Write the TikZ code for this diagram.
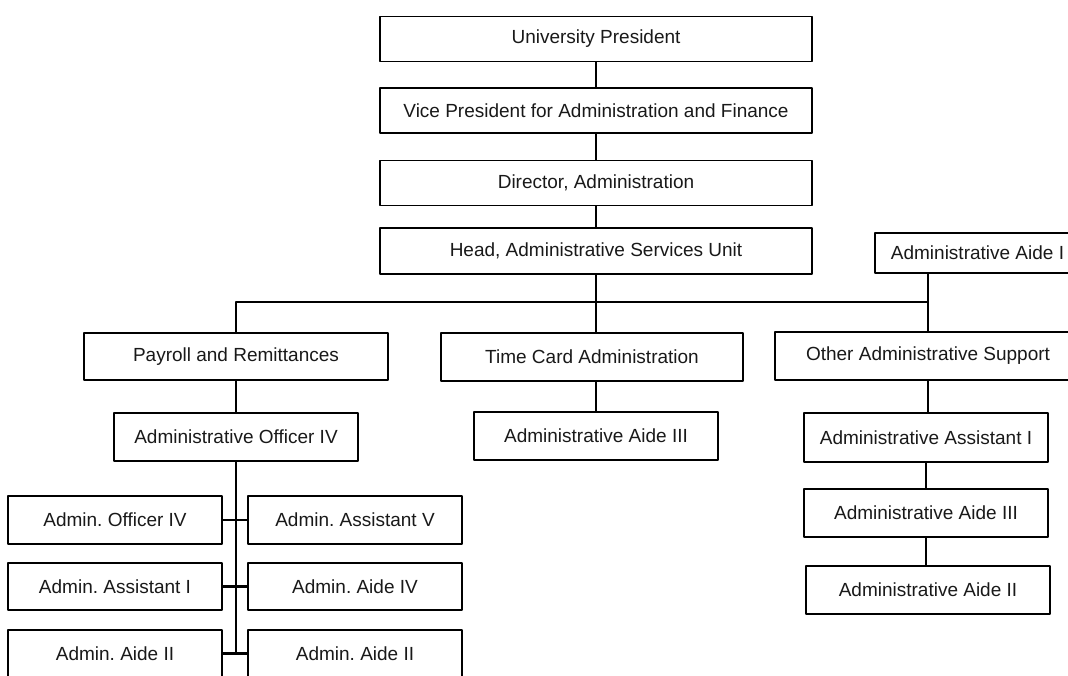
\documentclass[tikz,border=0pt]{standalone}
\usepackage{fontspec}
\setmainfont{Liberation Sans}
\begin{document}
\begin{tikzpicture}[x=0.5pt, y=-0.5pt, line join=round]
  \tikzset{post/.style={draw, line width=0.7pt, rectangle, inner sep=0pt, text=black!90, font=\fontsize{9.5}{11}\selectfont\frenchspacing},
    top/.style={post, minimum width=216pt, minimum height=22.5pt},
    unit/.style={post, minimum width=152pt, minimum height=24pt},
    staff/.style={post, minimum width=122pt, minimum height=24pt},
    clerk/.style={post, minimum width=107pt, minimum height=23.5pt},
    link/.style={line width=1.2pt}}
  \useasboundingbox (0,0) rectangle (1068,675);
  \clip (0,0) rectangle (1068,675);
  % chain of command
  \node[top] (pres) at (596,39) {University President};
  \node[top] (vp) at (596,110.5) {Vice President for Administration and Finance};
  \node[top] (dir) at (596,183) {Director, Administration};
  \node[top, minimum height=23pt] (head) at (596,251) {Head, Administrative Services Unit};
  \node[post, minimum width=102.5pt, minimum height=20pt] (aideI) at (977.5,253) {Administrative Aide I};
  % units
  \node[unit, minimum height=23.5pt] (payroll) at (236,356.5) {Payroll and Remittances};
  \node[unit, minimum width=151pt] (timecard) at (592,357) {Time Card Administration};
  \node[unit, minimum width=153pt] (other) at (928,356) {Other Administrative Support};
  % staff under each unit
  \node[staff] (aoIV) at (236,437) {Administrative Officer IV};
  \node[staff] (tcaide) at (596,436) {Administrative Aide III};
  \node[staff, minimum height=24.5pt] (assistI) at (926,437.5) {Administrative Assistant I};
  \node[staff] (aideIII) at (926,513) {Administrative Aide III};
  \node[staff] (aideII) at (928,590) {Administrative Aide II};
  % payroll clerks
  \node[clerk, minimum height=24pt] (la1) at (115,520) {Admin. Officer IV};
  \node[clerk] (la2) at (115,586.5) {Admin. Assistant I};
  \node[clerk] (la3) at (115,653.5) {Admin. Aide II};
  \node[clerk, minimum height=24pt] (ra1) at (355,520) {Admin. Assistant V};
  \node[clerk] (ra2) at (355,586.5) {Admin. Aide IV};
  \node[clerk] (ra3) at (355,653.5) {Admin. Aide II};
  \coordinate (bus) at (596,302);
  \draw[link] (pres) -- (vp);
  \draw[link] (vp) -- (dir);
  \draw[link] (dir) -- (head);
  \draw[link] (head.south) -- (head.south |- timecard.north);
  \draw[link] (payroll.north) |- (other.north |- bus) -- (other.north);
  \draw[link] (aideI.south -| other.north) -- (other.north |- bus);
  \draw[link] (payroll) -- (aoIV);
  \draw[link] (tcaide.north) -- (tcaide.north |- timecard.south);
  \draw[link] (other.south) -- (other.south |- assistI.north);
  \draw[link] (assistI) -- (aideIII);
  \draw[link] (aideIII.south) -- (aideIII.south |- aideII.north);
  \draw[link] (aoIV.south) -- (aoIV.south |- la3.east);
  \foreach \r in {1,2,3}
    \draw[link] (la\r.east) -- (ra\r.west);
\end{tikzpicture}
\end{document}
